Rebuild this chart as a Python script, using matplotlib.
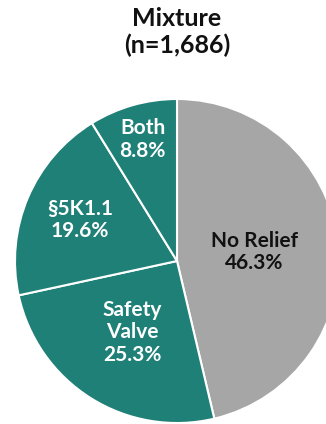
import numpy as np
import matplotlib
matplotlib.use("Agg")
from matplotlib import pyplot as plt

plt.rcParams['font.family'] = ['Lato', 'DejaVu Sans']

labels = ["No Relief", "Safety\nValve", "§5K1.1", "Both"]
shares = [46.3, 25.3, 19.6, 8.8]
colors = ["#a6a6a6", "#1f8077", "#1f8077", "#1f8077"]
text_colors = ["#111111", "white", "white", "white"]
label_radius = [0.48, 0.52, 0.65, 0.78]

W, H = 326, 424
fig = plt.figure(figsize=(W / 100, H / 100), dpi=100)

# pie centre and radius in pixels
cx, cy, R = 177, 261, 162
ax = fig.add_axes([(cx - R) / W, (H - cy - R) / H, 2 * R / W, 2 * R / H])

wedges, _ = ax.pie(shares, colors=colors, startangle=90, counterclock=False,
                   radius=1, wedgeprops=dict(edgecolor="white", linewidth=1.5))
ax.set_xlim(-1, 1)
ax.set_ylim(-1, 1)
ax.set_aspect("equal")
ax.axis("off")

for w, lab, val, tc, r in zip(wedges, labels, shares, text_colors, label_radius):
    mid = np.deg2rad((w.theta1 + w.theta2) / 2)
    ax.text(r * np.cos(mid), r * np.sin(mid), f"{lab}\n{val:.1f}%",
            ha="center", va="center", color=tc, fontsize=15, fontweight="bold",
            linespacing=1.15)

fig.text(cx / W, 1 - 32 / H, "Mixture\n(n=1,686)", ha="center", va="center",
         fontsize=18, fontweight="bold", color="#111111", linespacing=1.2)

fig.savefig("out.png", dpi=100)
